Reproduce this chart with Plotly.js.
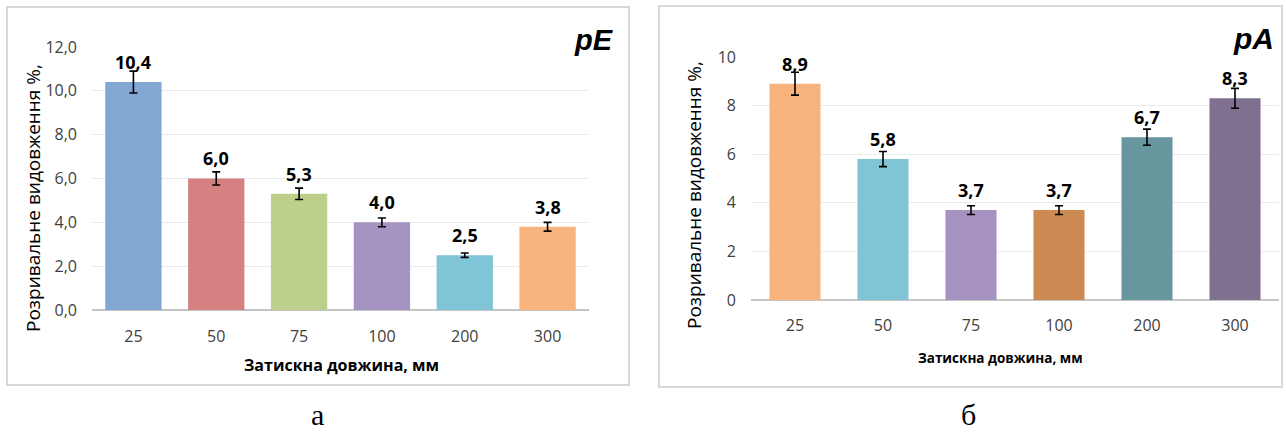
<!DOCTYPE html>
<html>
<head>
<meta charset="utf-8">
<script src="https://cdn.plot.ly/plotly-3.0.1.min.js"></script>
<style>
  html, body { margin: 0; padding: 0; background: #ffffff; }
  #chart { width: 1286px; height: 435px; }
</style>
</head>
<body>
<div id="chart"></div>
<script>
// Clamp length categories (mm)
const categories = ['25', '50', '75', '100', '200', '300'];

// pE series: breaking elongation, % and its spread
const pEValues = [10.4, 6.0, 5.3, 4.0, 2.5, 3.8];
const pEErrors = [0.5, 0.3, 0.26, 0.2, 0.1, 0.2];
const pEColors = ['#82A7D3', '#D58081', '#BCD08B', '#A593C1', '#80C4D7', '#F9B47E'];

// pA series: breaking elongation, % and its spread
const pAValues = [8.9, 5.8, 3.7, 3.7, 6.7, 8.3];
const pAErrors = [0.47, 0.31, 0.18, 0.18, 0.33, 0.41];
const pAColors = ['#F8B27C', '#80C4D6', '#A592C0', '#CD8A52', '#67969F', '#807090'];

const xTitle = 'Затискна довжина, мм';
const yTitle = 'Розривальне видовження %,';
const panelTags = ['pE', 'pA'];
const panelCaptions = ['а', 'б'];

const W = 1286, H = 435;
const px = v => v / W;
const py = v => 1 - v / H;

const FONT = '"Open Sans", "Noto Sans", sans-serif';
const TICK_COLOR = '#404040';

const fmt = v => v.toFixed(1).replace('.', ',');

function barTrace(values, errors, colors, xa, ya, barWidth) {
  return {
    type: 'bar',
    x: categories,
    y: values,
    width: barWidth,
    xaxis: xa,
    yaxis: ya,
    marker: { color: colors, line: { width: 0 } },
    error_y: { type: 'data', array: errors, visible: true, color: '#000000', thickness: 1.6, width: 4 },
    hoverinfo: 'skip'
  };
}

// value labels sit above each bar; x is the category index on the category axis
function valueLabels(values, xref, yref) {
  return values.map((v, i) => ({
    xref: xref, yref: yref,
    x: i, y: v,
    text: '<b>' + fmt(v) + '</b>',
    showarrow: false,
    yanchor: 'middle',
    yshift: 20,
    font: { family: FONT, size: 18, color: '#000000' }
  }));
}

const data = [
  barTrace(pEValues, pEErrors, pEColors, 'x', 'y', 0.68),
  barTrace(pAValues, pAErrors, pAColors, 'x2', 'y2', 0.58)
];

const commonX = {
  type: 'category',
  range: [-0.5, categories.length - 0.5],
  autorange: false,
  showgrid: false,
  showline: false,
  zeroline: false,
  ticks: '',
  tickfont: { family: FONT, size: 16, color: TICK_COLOR },
  fixedrange: true
};
const commonY = {
  autorange: false,
  showgrid: true,
  gridcolor: '#EAEAEA',
  gridwidth: 1,
  zeroline: true,
  zerolinecolor: '#C4C4C4',
  zerolinewidth: 2,
  showline: false,
  ticks: '',
  dtick: 2,
  tickfont: { family: FONT, size: 16, color: TICK_COLOR },
  ticklabelstandoff: 14,
  fixedrange: true
};

const annotations = []
  .concat(valueLabels(pEValues, 'x', 'y'))
  .concat(valueLabels(pAValues, 'x2', 'y2'))
  .concat([
    // axis titles, left panel
    { xref: 'paper', yref: 'paper', x: px(341), y: py(365), text: '<b>' + xTitle + '</b>',
      showarrow: false, xanchor: 'center', yanchor: 'middle',
      font: { family: FONT, size: 16, color: '#000000' } },
    { xref: 'paper', yref: 'paper', x: px(33), y: py(198), text: yTitle, textangle: -90,
      showarrow: false, xanchor: 'center', yanchor: 'middle',
      font: { family: FONT, size: 19, color: '#000000' } },
    // axis titles, right panel
    { xref: 'paper', yref: 'paper', x: px(1000), y: py(358), text: '<b>' + xTitle + '</b>',
      showarrow: false, xanchor: 'center', yanchor: 'middle',
      font: { family: FONT, size: 13.5, color: '#000000' } },
    { xref: 'paper', yref: 'paper', x: px(694), y: py(195), text: yTitle, textangle: -90,
      showarrow: false, xanchor: 'center', yanchor: 'middle',
      font: { family: FONT, size: 19, color: '#000000' } },
    // panel tags
    { xref: 'paper', yref: 'paper', x: px(616), y: py(40), text: '<b><i>' + panelTags[0] + '</i></b>',
      showarrow: false, xanchor: 'right', yanchor: 'middle',
      font: { family: '"Liberation Sans", Arial, sans-serif', size: 29, color: '#000000' } },
    { xref: 'paper', yref: 'paper', x: px(1276), y: py(38), text: '<b><i>' + panelTags[1] + '</i></b>',
      showarrow: false, xanchor: 'right', yanchor: 'middle',
      font: { family: '"Liberation Sans", Arial, sans-serif', size: 30, color: '#000000' } },
    // captions under the panels
    { xref: 'paper', yref: 'paper', x: px(317), y: py(414), text: panelCaptions[0],
      showarrow: false, xanchor: 'center', yanchor: 'middle',
      font: { family: '"Liberation Serif", "Times New Roman", serif', size: 30, color: '#000000' } },
    { xref: 'paper', yref: 'paper', x: px(968), y: py(414), text: panelCaptions[1],
      showarrow: false, xanchor: 'center', yanchor: 'middle',
      font: { family: '"Liberation Serif", "Times New Roman", serif', size: 30, color: '#000000' } }
  ]);

const layout = {
  width: W,
  height: H,
  margin: { l: 0, r: 0, t: 0, b: 0 },
  paper_bgcolor: '#ffffff',
  plot_bgcolor: 'rgba(0,0,0,0)',
  showlegend: false,
  separators: ', ',
  xaxis: Object.assign({}, commonX, { domain: [px(92), px(589)], anchor: 'y', ticklabelstandoff: 15 }),
  yaxis: Object.assign({}, commonY, { domain: [py(310), py(47)], anchor: 'x', range: [0, 12], tickformat: '.1f' }),
  xaxis2: Object.assign({}, commonX, { domain: [px(751), px(1279)], anchor: 'y2', ticklabelstandoff: 14 }),
  yaxis2: Object.assign({}, commonY, { domain: [py(300), py(57)], anchor: 'x2', range: [0, 10], tickformat: 'd' }),
  annotations: annotations,
  shapes: [
    { type: 'rect', xref: 'paper', yref: 'paper', x0: px(7), x1: px(629), y0: py(385), y1: py(7),
      line: { color: '#D9D9D9', width: 2 }, layer: 'below' },
    { type: 'rect', xref: 'paper', yref: 'paper', x0: px(659), x1: px(1282), y0: py(387), y1: py(6),
      line: { color: '#D9D9D9', width: 2 }, layer: 'below' }
  ]
};

Plotly.newPlot('chart', data, layout, { displayModeBar: false, staticPlot: true });
</script>
</body>
</html>
